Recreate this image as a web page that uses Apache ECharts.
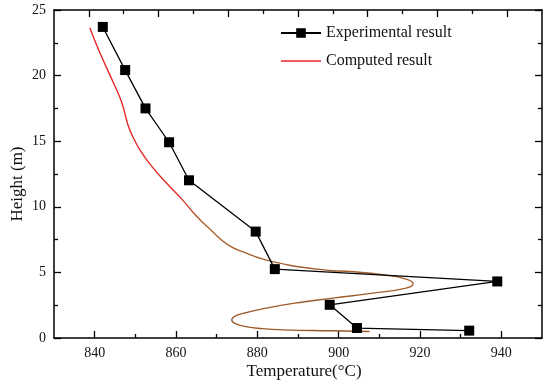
<!DOCTYPE html>
<html>
<head>
<meta charset="utf-8">
<script src="https://cdn.jsdelivr.net/npm/echarts@6/dist/echarts.min.js"></script>
<style>html,body{margin:0;padding:0;background:#fff;}#c{width:550px;height:386px;}</style>
</head>
<body>
<div id="c"></div>
<script>
const expTemp = [842.0, 847.5, 852.5, 858.3, 863.2, 879.6, 884.3, 939.0, 897.8, 904.5, 932.1];
const expHeight = [23.71, 20.42, 17.5, 14.92, 12.02, 8.11, 5.25, 4.31, 2.53, 0.76, 0.56];

const compTemp = [838.8, 841.2, 844.5, 846.6, 848.2, 849.3, 851.2, 854.0, 857.3, 861.6, 865.0, 868.5, 872.8, 877.3, 881.4, 885.5, 889.6, 897.8, 902.7, 910.9, 916.6, 918.3, 916.6, 908.4, 898.6, 890.4, 882.2, 876.8, 874.4, 873.7, 874.6, 877.2, 881.0, 886.3, 898.6, 907.6];
const compHeight = [23.64, 21.8, 19.53, 18.0, 16.23, 15.4, 14.3, 13.1, 11.93, 10.53, 9.3, 8.25, 7.1, 6.47, 6.01, 5.71, 5.45, 5.15, 5.07, 4.82, 4.49, 4.13, 3.8, 3.42, 3.04, 2.71, 2.28, 1.9, 1.65, 1.38, 1.1, 0.87, 0.72, 0.62, 0.55, 0.5];

const xMajor = [840, 860, 880, 900, 920, 940];
const xMinor = [850, 870, 890, 910, 930];
const yMajor = [0, 5, 10, 15, 20, 25];
const yMinor = [2.5, 7.5, 12.5, 17.5, 22.5];
const xTopTicks = [838.571, 847.143, 855.714, 864.286, 872.857, 881.429, 890, 898.571, 907.143, 915.714, 924.286, 932.857, 941.429];

const seriesNames = ['Experimental result', 'Computed result'];
const xTitle = 'Temperature(°C)';
const yTitle = 'Height (m)';

const FONT = '"Liberation Serif", "Times New Roman", serif';
const X_MIN = 830, X_MAX = 950, Y_MIN = 0, Y_MAX = 25;

function xAx(pos, ticks, len, showLabel, showLine) {
  return {
    type: 'value', position: pos, min: X_MIN, max: X_MAX,
    splitLine: {show: false},
    axisLine: {show: showLine, onZero: false, lineStyle: {color: '#000', width: 1.5}},
    axisTick: {show: true, inside: true, length: len, customValues: ticks, lineStyle: {color: '#000', width: 1.3}},
    axisLabel: {show: showLabel, customValues: showLabel ? ticks : undefined, fontFamily: FONT, fontSize: 14, color: '#111', margin: 8}
  };
}
function yAx(pos, ticks, len, showLabel, showLine) {
  return {
    type: 'value', position: pos, min: Y_MIN, max: Y_MAX,
    splitLine: {show: false},
    axisLine: {show: showLine, onZero: false, lineStyle: {color: '#000', width: 1.5}},
    axisTick: {show: true, inside: true, length: len, customValues: ticks, lineStyle: {color: '#000', width: 1.3}},
    axisLabel: {show: showLabel, customValues: showLabel ? ticks : undefined, fontFamily: FONT, fontSize: 14, color: '#111', margin: 8}
  };
}

const topMajor = xTopTicks.filter((v, i) => i % 2 === 0);
const topMinor = xTopTicks.filter((v, i) => i % 2 === 1);

const chart = echarts.init(document.getElementById('c'), null, {renderer: 'canvas'});
chart.setOption({
  animation: false,
  backgroundColor: '#fff',
  grid: {left: 54, right: 8, top: 10, bottom: 48, containLabel: false},
  xAxis: [
    xAx('bottom', xMajor, 7, true, true),
    xAx('bottom', xMinor, 4, false, false),
    xAx('top', topMajor, 7, false, true),
    xAx('top', topMinor, 4, false, false)
  ],
  yAxis: [
    yAx('left', yMajor, 7, true, true),
    yAx('left', yMinor, 4, false, false),
    yAx('right', yMajor, 7, false, true),
    yAx('right', yMinor, 4, false, false)
  ],
  legend: {
    orient: 'vertical', left: 280, top: 25, padding: 0, itemWidth: 40, itemHeight: 12, itemGap: 12,
    textStyle: {fontFamily: FONT, fontSize: 16, color: '#111'},
    data: [
      {name: seriesNames[0]},
      {name: seriesNames[1], itemStyle: {opacity: 0}, lineStyle: {color: '#e8262a', width: 1.4}}
    ]
  },
  graphic: [
    {type: 'text', x: 304, y: 372, style: {text: xTitle, font: '17px ' + FONT, fill: '#111', align: 'center', verticalAlign: 'middle'}},
    {type: 'text', x: 18, y: 184, rotation: Math.PI / 2, style: {text: yTitle, font: '17px ' + FONT, fill: '#111', align: 'center', verticalAlign: 'middle'}}
  ],
  series: [
    {
      name: seriesNames[0], type: 'line', xAxisIndex: 0, yAxisIndex: 0,
      data: expTemp.map((t, i) => [t, expHeight[i]]),
      symbol: 'rect', symbolSize: 10, showAllSymbol: true,
      itemStyle: {color: '#000'},
      lineStyle: {color: '#000', width: 1.3},
      z: 3
    },
    {
      name: seriesNames[1], type: 'line', xAxisIndex: 0, yAxisIndex: 0,
      data: compTemp.map((t, i) => [t, compHeight[i]]),
      symbol: 'none', smooth: 0.5,
      itemStyle: {color: '#e8262a'},
      lineStyle: {width: 1.4, color: {type: 'linear', x: 0, y: 0, x2: 0, y2: 1, colorStops: [
        {offset: 0, color: '#e8262a'}, {offset: 0.55, color: '#e02a24'}, {offset: 0.64, color: '#a8602e'}, {offset: 1, color: '#9a5a2c'}
      ]}},
      z: 2
    }
  ]
});
</script>
</body>
</html>
